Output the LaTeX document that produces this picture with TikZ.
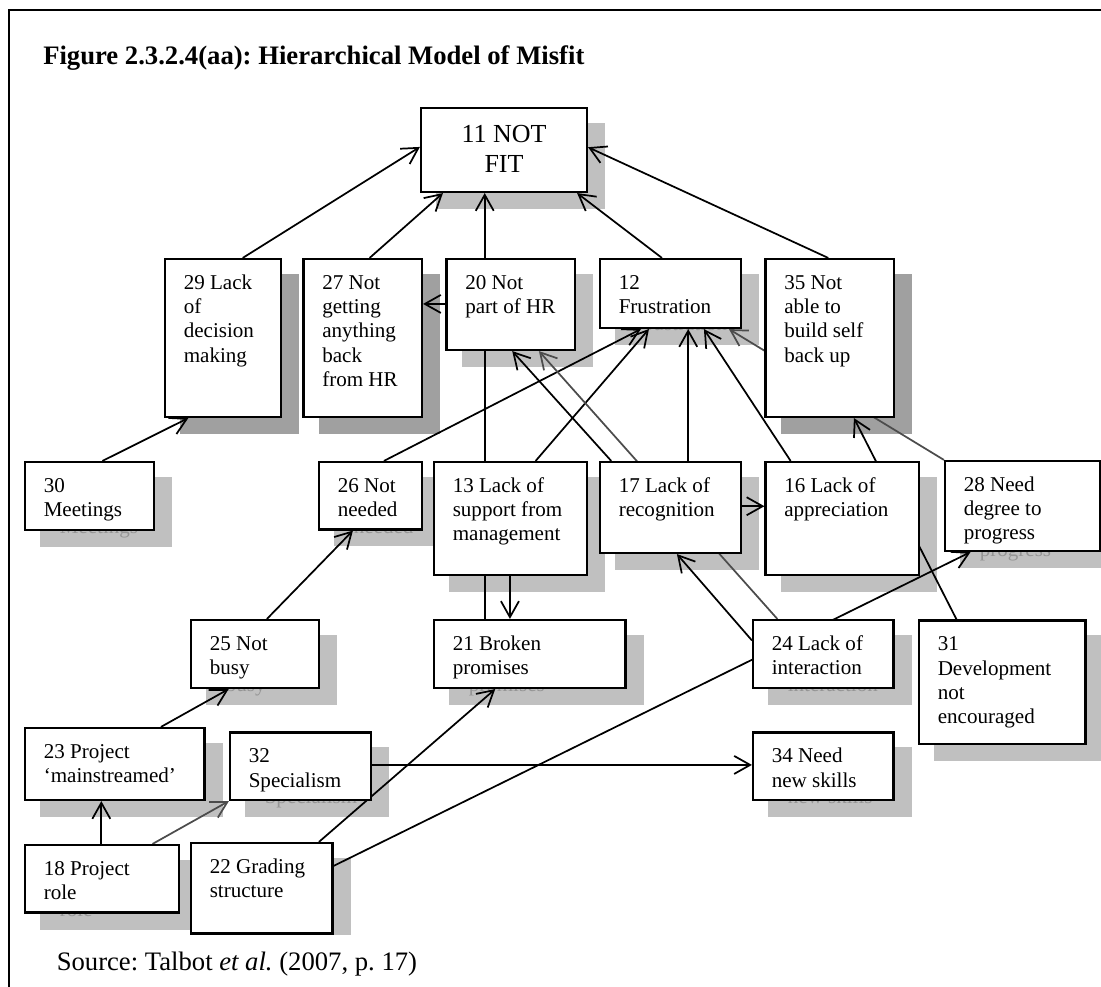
\documentclass[tikz,border=0pt]{standalone}
\usepackage{fontspec}
\setmainfont{Liberation Serif}
\frenchspacing
\usetikzlibrary{arrows.meta,fit,calc}
\pgfdeclarelayer{bglayer}
\pgfdeclarelayer{shadowlayer}
\pgfdeclarelayer{connlayer}
\pgfsetlayers{bglayer,shadowlayer,connlayer,main}
\definecolor{shlight}{HTML}{C0C0C0}
\definecolor{shdark}{HTML}{A0A0A0}
\definecolor{ghostcol}{HTML}{959595}
\tikzset{
  boxshape/.style={draw, fill=white, line width=1.6pt, inner sep=0pt},
  boxtext/.style={anchor=north west, inner sep=0pt, align=left, font=\fontsize{15.8}{18.2}\selectfont},
  ghosttext/.style={anchor=base west, inner sep=0pt, text=ghostcol, font=\fontsize{15.8}{18.2}\selectfont},
  conn/.style={line width=1.3pt, -{Straight Barb[length=12pt,width=13.5pt]}},
  grayline/.style={draw=black!70},
}
\newcommand\mkbox[8]{%
  \begin{pgfonlayer}{shadowlayer}
    \fill[#6] (#2+15,#3+15) rectangle (#4+18,#5+#8);
  \end{pgfonlayer}
  \node[boxshape, fit={(#2,#3) (#4,#5)}] (#1) {};
  \node[boxtext] (#1t) at (#2+18.5,#3+13) {\strut #7};
}
\newcommand\ghostline[4]{%
  \begin{pgfonlayer}{shadowlayer}
    \node[ghosttext] (#1) at (#2,#3) {#4};
  \end{pgfonlayer}
}
\begin{document}
\begin{tikzpicture}[x=0.75pt,y=-0.75pt]
\useasboundingbox (0,0) rectangle (1101,987);
\begin{pgfonlayer}{bglayer}
\fill[white] (0,0) rectangle (1101,987);
\end{pgfonlayer}
\draw[line width=1.5pt] (8.5,10.5) rectangle (1115,1000);
\node[anchor=base west, inner sep=0pt, font=\bfseries\fontsize{20}{24}\selectfont] (title) at (43,65) {Figure 2.3.2.4(aa): Hierarchical Model of Misfit};

\mkbox{n11}{421}{108}{587}{192}{shlight}{}{17}
\node[anchor=north, inner sep=0pt, align=center, font=\fontsize{19.5}{22.5}\selectfont] (n11text) at (504,121) {\strut 11 NOT\\FIT};

\mkbox{n29}{165}{259}{281}{417}{shdark}{29 Lack\\of\\decision\\making}{17}
\mkbox{n27}{303.5}{259}{422}{417}{shdark}{27 Not\\getting\\anything\\back\\from HR}{17}
\mkbox{n20}{446.5}{259}{575}{350}{shlight}{20 Not\\part of HR}{17}
\mkbox{n12}{600}{259}{741}{328}{shlight}{12\\Frustration}{17}
\mkbox{n35}{765.5}{259}{894}{417}{shdark}{35 Not\\able to\\build self\\back up}{17}
\mkbox{n30}{25}{462}{154}{530}{shlight}{30\\Meetings}{17}
\mkbox{n26}{319}{462}{422}{529.5}{shlight}{26 Not\\needed}{17}
\mkbox{n13}{434}{462}{587}{575}{shlight}{13 Lack of\\support from\\management}{17}
\mkbox{n17}{600}{462}{741}{553}{shlight}{17 Lack of\\recognition}{17}
\mkbox{n16}{765.5}{462}{919}{575}{shlight}{16 Lack of\\appreciation}{17}
\mkbox{n28}{945}{461}{1100}{551}{shlight}{28 Need\\degree to\\progress}{17}
\mkbox{n25}{191}{620}{319}{688}{shlight}{25 Not\\busy}{17}
\mkbox{n21}{434}{620}{625.5}{688}{shlight}{21 Broken\\promises}{17}
\mkbox{n24}{753}{620}{893.5}{688}{shlight}{24 Lack of\\interaction}{17}
\mkbox{n31}{919}{620.5}{1085.5}{744}{shlight}{31\\Development\\not\\encouraged}{17}
\mkbox{n23}{25}{728}{204.5}{800}{shlight}{23 Project\\‘mainstreamed’}{17}
\mkbox{n32}{230}{732.5}{371}{800}{shlight}{32\\Specialism}{17}
\mkbox{n34}{753}{732.5}{893.5}{800}{shlight}{34 Need\\new skills}{17}
\mkbox{n18}{25}{845}{179}{912.5}{shlight}{18 Project\\role}{17}
\mkbox{n22}{191}{843}{332.5}{933.5}{shlight}{22 Grading\\structure}{1.5}

% shadow copies of the last text lines, showing below the boxes
\ghostline{g12}{634.5}{330.3}{Frustration}
\ghostline{g30}{59.5}{533.3}{Meetings}
\ghostline{g26}{353.5}{533.3}{needed}
\ghostline{g28}{979.5}{556.6}{progress}
\ghostline{g25}{225.5}{691.3}{busy}
\ghostline{g21}{468.5}{691.3}{promises}
\ghostline{g24}{787.5}{691.3}{interaction}
\ghostline{g32}{264.5}{803.8}{Specialism}
\ghostline{g34}{787.5}{803.8}{new skills}
\ghostline{g18}{59.5}{916.3}{role}

\node[anchor=base west, inner sep=0pt, font=\fontsize{20}{24}\selectfont] (source) at (56.5,970) {Source: Talbot \textit{et al.} (2007, p. 17)};

\begin{pgfonlayer}{connlayer}
\draw[conn] ($(n29.north west)+(78.8,0)$) -- ($(n11.north west)+(0,40)$);
\draw[conn] ($(n27.north west)+(67.2,0)$) -- ($(n11.south west)+(23,0)$);
\draw[conn] ($(n21.north west)+(51.8,0)$) -- ($(n11.south west)+(64.8,0)$);
\draw[conn] ($(n12.north west)+(63,0)$) -- ($(n11.south east)+(-11,0)$);
\draw[conn] ($(n35.north west)+(63.8,0)$) -- ($(n11.north east)+(0,40.3)$);
\draw[conn] ($(n20.north west)+(0,46)$) -- ($(n27.north east)+(0,46)$);
\draw[conn] ($(n30.north west)+(78.5,0)$) -- ($(n29.south west)+(24.4,0)$);
\draw[conn] ($(n26.north west)+(66,0)$) -- ($(n12.south west)+(42,0)$);
\draw[conn] ($(n13.north west)+(102.7,0)$) -- ($(n12.south west)+(50,0)$);
\draw[conn] ($(n17.north west)+(12.3,0)$) -- ($(n20.south west)+(66.8,0)$);
\draw[conn,grayline] ($(n24.north west)+(25.4,0)$) -- ($(n20.south west)+(93.5,0)$);
\draw[conn] ($(n17.north west)+(89.3,0)$) -- ($(n12.south west)+(89.3,0)$);
\draw[conn] ($(n16.north west)+(26.2,0)$) -- ($(n12.south west)+(105,0)$);
\draw[conn,grayline] (n28.north west) -- ($(n12.south west)+(130,0)$);
\draw[conn] ($(n31.north west)+(38.6,0)$) -- ($(n35.south west)+(89.5,0)$);
\draw[conn] ($(n17.north east)+(0,45.3)$) -- ($(n16.north west)+(0,45.3)$);
\draw[conn] ($(n13.south west)+(77,0)$) -- ($(n21.north west)+(77,0)$);
\draw[conn] ($(n25.north west)+(77,0)$) -- ($(n26.south west)+(35,0)$);
\draw[conn] ($(n23.north west)+(137,0)$) -- ($(n25.south west)+(38.7,0)$);
\draw[conn] ($(n18.north west)+(77.4,0)$) -- ($(n23.south west)+(77.4,0)$);
\draw[conn,grayline] ($(n18.north west)+(128.6,0)$) -- (n32.south west);
\draw[conn] ($(n22.north west)+(129,0)$) -- ($(n21.south west)+(62.3,0)$);
\draw[conn] ($(n22.north east)+(0,24)$) -- ($(n28.south west)+(26.6,0)$);
\draw[conn] ($(n24.north west)+(0,21.5)$) -- ($(n17.south west)+(78,0)$);
\draw[conn] ($(n32.north east)+(0,33.5)$) -- ($(n34.north west)+(0,33.5)$);
\end{pgfonlayer}
\end{tikzpicture}
\end{document}
